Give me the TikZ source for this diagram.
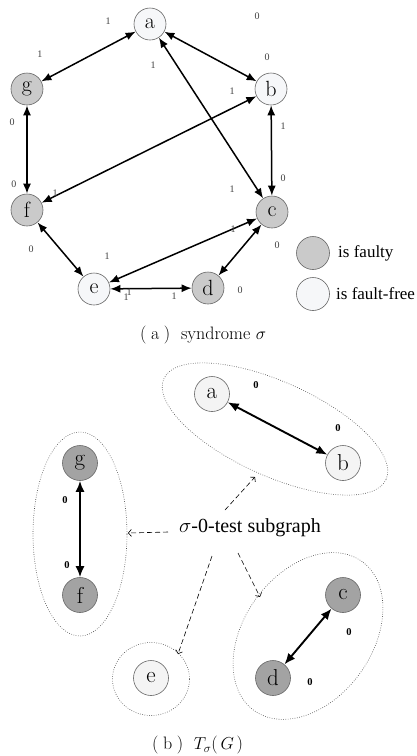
\documentclass[tikz,border=0pt]{standalone}
\usepackage{fontspec}
\newfontfamily\tms{Liberation Serif}
\usetikzlibrary{arrows.meta,shapes.geometric}
\definecolor{freeA}{RGB}{246,247,249}
\definecolor{faultA}{RGB}{202,202,202}
\definecolor{faultB}{RGB}{163,163,163}
\definecolor{freeB}{RGB}{244,244,244}
\begin{document}
\begin{tikzpicture}[x=1pt,y=-1pt,
  vtx/.style={circle,draw=black!60,line width=0.6pt,minimum size=32pt,inner sep=0pt,font=\fontsize{22}{26}\selectfont},
  fa/.style={vtx,fill=faultA},
  ff/.style={vtx,fill=freeA},
  vb/.style={circle,draw=black!60,line width=0.6pt,minimum size=35pt,inner sep=0pt,font=\fontsize{23}{27}\selectfont},
  fb/.style={vb,fill=faultB},
  fbf/.style={vb,fill=freeB},
  arrA/.style={line width=1.5pt,{Latex[length=10pt,width=8pt]}-{Latex[length=10pt,width=8pt]}},
  arrB/.style={line width=1.9pt,{Latex[length=11pt,width=9pt]}-{Latex[length=11pt,width=9pt]}},
  lblA/.style={font=\tms\fontsize{10}{11}\selectfont,text=black!75,inner sep=0pt},
  lblB/.style={font=\tms\bfseries\fontsize{10.5}{11}\selectfont,inner sep=0pt},
  grp/.style={ellipse,draw=black!70,line width=0.6pt,dash pattern=on 0.7pt off 1.6pt,inner sep=0pt},
  dsh/.style={line width=0.6pt,dash pattern=on 5pt off 3pt,-{Straight Barb[length=3pt,width=7pt]}},
  txt/.style={font=\tms\fontsize{17}{20}\selectfont,inner sep=0pt,anchor=west},
  captxt/.style={font=\fontsize{18}{21}\selectfont,inner sep=0pt,anchor=west}
]
\useasboundingbox (0,0) rectangle (416,756);
% ---------- (a) ----------
\node[ff] (a) at (150,24) {a};
\node[ff] (b) at (271,89) {b};
\node[fa] (g) at (27,89) {g};
\node[fa] (f) at (27,210) {f};
\node[fa] (c) at (272,212) {c};
\node[ff] (e) at (94,289) {e};
\node[fa] (d) at (208,288) {d};

\draw[arrA] (a) -- (g);
\draw[arrA] (a) -- (b);
\draw[arrA] (a) -- (c);
\draw[arrA] (g) -- (f);
\draw[arrA] (f) -- (b);
\draw[arrA] (b) -- (c);
\draw[arrA] (e) -- (c);
\draw[arrA] (f) -- (e);
\draw[arrA] (e) -- (d);
\draw[arrA] (c) -- (d);

\node[lblA] (l1) at (108,21) {1};
\node[lblA] (l2) at (40,54) {1};
\node[lblA] (l3) at (153,65) {1};
\node[lblA] (l4) at (232,189) {1};
\node[lblA] (l5) at (257,16) {0};
\node[lblA] (l6) at (267,57) {0};
\node[lblA] (l7) at (232,91) {1};
\node[lblA] (l8) at (55,193) {1};
\node[lblA] (l9) at (12,122) {0};
\node[lblA] (l10) at (14,184) {0};
\node[lblA] (l11) at (283,126) {1};
\node[lblA] (l12) at (283,178) {0};
\node[lblA] (l13) at (107,256) {1};
\node[lblA] (l14) at (233,229) {1};
\node[lblA] (l15) at (31,249) {0};
\node[lblA] (l16) at (126,297) {1};
\node[lblA] (l17) at (129,292) {1};
\node[lblA] (l18) at (174,296) {1};
\node[lblA] (l19) at (277,245) {0};
\node[lblA] (l20) at (240,290) {0};

\node[fa,minimum size=33pt] (legF) at (313,253) {};
\node[ff,minimum size=33pt] (legT) at (313,294) {};
\node[txt] (legFt) at (338,253) {is faulty};
\node[txt] (legTt) at (336,294) {is fault-free};

\node[captxt] (capA) at (140,335) {(\hspace{0.25em}a\hspace{0.25em})\hspace{0.6em}syndrome $\sigma$};

% ---------- (b) ----------
\node[grp,minimum width=244pt,minimum height=94pt,rotate=-24.4] (gAB) at (275,429) {};
\node[grp,minimum width=94pt,minimum height=204pt] (gGF) at (80,534) {};
\node[grp,minimum width=77pt,minimum height=73pt] (gE) at (151,679) {};
\node[grp,minimum width=184pt,minimum height=128pt,rotate=53.9] (gCD) at (308,636) {};

\node[fbf] (a2) at (212,394) {a};
\node[fbf] (b2) at (343,463) {b};
\node[fb] (g2) at (80,463) {g};
\node[fb] (f2) at (80,595) {f};
\node[fb] (c2) at (343,595) {c};
\node[fb] (d2) at (273,678) {d};
\node[fbf] (e2) at (151,678) {e};

\draw[arrB] (a2) -- (b2);
\draw[arrB] (g2) -- (f2);
\draw[arrB] (c2) -- (d2);

\node[lblB] (m1) at (256,385) {0};
\node[lblB] (m2) at (338,428) {0};
\node[lblB] (m3) at (65,500) {0};
\node[lblB] (m4) at (67,565) {0};
\node[lblB] (m5) at (349,632) {0};
\node[lblB] (m6) at (310,682) {0};

\node[font=\tms\fontsize{20}{23}\selectfont,inner sep=0pt] (sub) at (250,528) {$\sigma$-0-test subgraph};
\coordinate (s1) at (168,532);
\coordinate (t1) at (128,533);
\coordinate (s2) at (225,510);
\coordinate (t2) at (255,477);
\coordinate (s3) at (212,556);
\coordinate (t3) at (178,654);
\coordinate (s4) at (238,553);
\coordinate (t4) at (260,597);
\draw[dsh] (s1) -- (t1);
\draw[dsh] (s2) -- (t2);
\draw[dsh] (s3) -- (t3);
\draw[dsh] (s4) -- (t4);

\node[captxt] (capB) at (152,745) {(\hspace{0.25em}b\hspace{0.25em})\hspace{0.6em}$T_\sigma$(\hspace{0.15em}$G$\hspace{0.15em})};
\end{tikzpicture}
\end{document}
